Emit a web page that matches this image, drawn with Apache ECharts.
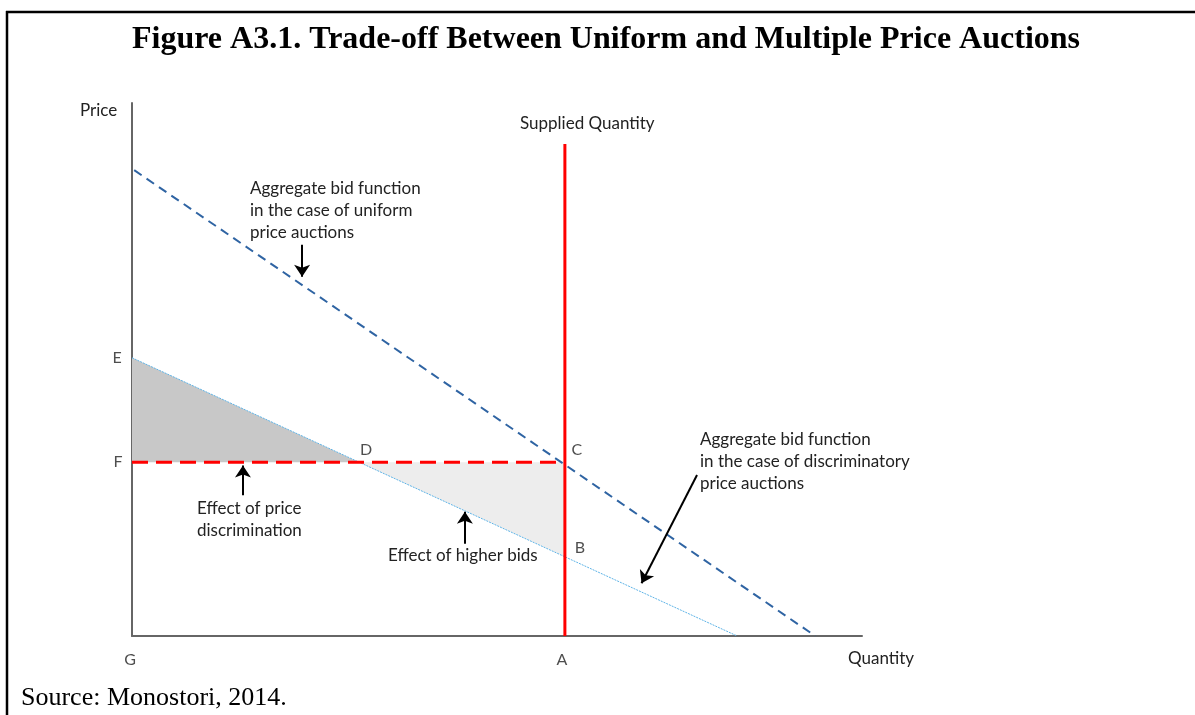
<!DOCTYPE html>
<html lang="en">
<head>
    <meta charset="UTF-8">
    <title>Trade-off Between Uniform and Multiple Price Auctions</title>
    <script src="https://cdn.jsdelivr.net/npm/echarts@6.0.0/dist/echarts.min.js"></script>
    <style>
        html, body { margin: 0; padding: 0; background: #fff; }
    </style>
</head>
<body>
    <div id="main" style="width: 1195px;height:715px;"></div>
    <script type="text/javascript">
        // Diagram values in abstract units (quantity 0-100, price 0-100)
        const uniformBid = [[0.3, 87.4], [93.6, 0]];
        const discrimBid = [[0, 52.2], [82.9, 0]];
        const suppliedQty = [[59.3, 0], [59.3, 92.3]];
        const stopPrice = [[0, 32.6], [59.3, 32.6]];
        const priceDiscArea = [[0, 52.2], [0, 32.6], [31.1, 32.6]];
        const higherBidsArea = [[31.1, 32.6], [59.3, 32.6], [59.3, 14.9]];
        const arrows = [
            [[23.3, 73.4], [23.3, 67.4]],
            [[15.2, 26.4], [15.2, 32.0]],
            [[45.6, 17.3], [45.6, 23.3]],
            [[77.4, 30.2], [69.8, 9.9]]
        ];
        const pointLabels = [
            { name: 'C', coord: [59.3, 32.6], dx: 12, dy: -12 },
            { name: 'D', coord: [31.1, 32.6], dx: 7, dy: -12 },
            { name: 'B', coord: [59.3, 14.9], dx: 15, dy: -9 },
            { name: 'E', coord: [0, 52.2], dx: -15, dy: 0 },
            { name: 'F', coord: [0, 32.6], dx: -14, dy: 0 },
            { name: 'G', coord: [0, 0], dx: -2, dy: 24 },
            { name: 'A', coord: [59.3, 0], dx: -3, dy: 24 }
        ];

        const font = 'Lato, "Open Sans", sans-serif';
        let myChart = echarts.init(document.getElementById('main'));

        function polygon(name, pts, color) {
            return {
                name: name,
                type: 'custom',
                data: [0],
                z: 1,
                renderItem: function (params, api) {
                    return {
                        type: 'polygon',
                        shape: { points: pts.map(p => api.coord(p)) },
                        style: { fill: color }
                    };
                }
            };
        }

        function lineSeries(name, data, style) {
            return {
                name: name,
                type: 'line',
                data: data,
                symbol: 'none',
                silent: true,
                z: style.z || 3,
                lineStyle: style
            };
        }

        function textBlock(x, y, lines) {
            return {
                type: 'text',
                left: x,
                top: y,
                style: {
                    text: lines.join('\n'),
                    font: '17px ' + font,
                    lineHeight: 22,
                    fill: '#222'
                }
            };
        }

        let options = {
            animation: false,
            backgroundColor: '#fff',
            grid: { left: 132, right: 333, top: 103, bottom: 79 },
            xAxis: {
                type: 'value', min: 0, max: 100,
                axisLine: { lineStyle: { color: '#666', width: 2 } },
                axisTick: { show: false }, axisLabel: { show: false }, splitLine: { show: false }
            },
            yAxis: {
                type: 'value', min: 0, max: 100,
                axisLine: { show: true, lineStyle: { color: '#666', width: 2 } },
                axisTick: { show: false }, axisLabel: { show: false }, splitLine: { show: false }
            },
            series: [
                polygon('Effect of price discrimination', priceDiscArea, '#c8c8c8'),
                polygon('Effect of higher bids', higherBidsArea, '#ededed'),
                lineSeries('Uniform bid function', uniformBid, { color: '#2f64a3', width: 2, type: [9, 6] }),
                lineSeries('Discriminatory bid function', discrimBid, { color: '#5eb3e6', width: 1, type: [2, 1] }),
                lineSeries('Stop-out price', stopPrice, { color: '#ff0000', width: 3, type: [16, 8], z: 4 }),
                lineSeries('Supplied Quantity', suppliedQty, { color: '#ff0000', width: 3, z: 5 }),
                {
                    name: 'arrows',
                    type: 'lines',
                    coordinateSystem: 'cartesian2d',
                    symbol: ['none', 'arrow'],
                    symbolSize: 12,
                    lineStyle: { color: '#000', width: 2, opacity: 1 },
                    data: arrows.map(a => ({ coords: a })),
                    z: 6
                },
                {
                    name: 'points',
                    type: 'scatter',
                    symbolSize: 0,
                    data: pointLabels.map(p => ({ value: p.coord, name: p.name, label: { offset: [p.dx, p.dy] } })),
                    label: {
                        show: true,
                        formatter: '{b}',
                        color: '#222',
                        fontFamily: font,
                        fontSize: 16
                    },
                    z: 7
                }
            ],
            graphic: [
                { type: 'line', shape: { x1: 6, y1: 12, x2: 1195, y2: 12 }, style: { stroke: '#000', lineWidth: 2.5 } },
                { type: 'line', shape: { x1: 7, y1: 11, x2: 7, y2: 715 }, style: { stroke: '#000', lineWidth: 2.5 } },
                {
                    type: 'text', left: 132, top: 24,
                    style: {
                        text: 'Figure A3.1. Trade-off Between Uniform and Multiple Price Auctions',
                        font: 'bold 32px "Liberation Serif", "Times New Roman", serif',
                        fill: '#000'
                    }
                },
                { type: 'text', left: 80, top: 102, style: { text: 'Price', font: '17px ' + font, fill: '#222' } },
                { type: 'text', left: 520, top: 115, style: { text: 'Supplied Quantity', font: '17px ' + font, fill: '#222' } },
                { type: 'text', left: 848, top: 650, style: { text: 'Quantity', font: '17px ' + font, fill: '#222' } },
                textBlock(250, 178, ['Aggregate bid function', 'in the case of uniform', 'price auctions']),
                textBlock(197, 498, ['Effect of price', 'discrimination']),
                textBlock(388, 545, ['Effect of higher bids']),
                textBlock(700, 429, ['Aggregate bid function', 'in the case of discriminatory', 'price auctions']),
                {
                    type: 'text', left: 21, top: 685,
                    style: { text: 'Source: Monostori, 2014.', font: '26px "Liberation Serif", "Times New Roman", serif', fill: '#000' }
                }
            ]
        };

        myChart.setOption(options);
    </script>
</body>
</html>
